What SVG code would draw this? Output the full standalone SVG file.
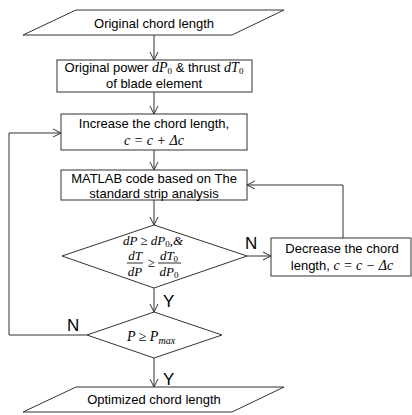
<svg xmlns="http://www.w3.org/2000/svg" width="412" height="415" viewBox="0 0 412 415">
<style>
.s{fill:#fff;stroke:#333;stroke-width:1}
.c{fill:none;stroke:#333;stroke-width:1}
.t{font-family:"Liberation Sans",Arial,sans-serif;font-size:13px;fill:#000;text-anchor:middle}
.m{font-family:"Liberation Serif","Times New Roman",serif;font-style:italic;font-size:14px}
.f{font-size:13px}
.u{font-family:"Liberation Serif","Times New Roman",serif;font-style:normal;font-size:9px}
.ui{font-family:"Liberation Serif","Times New Roman",serif;font-style:italic;font-size:10px}
.l{font-family:"Liberation Sans",Arial,sans-serif;font-size:17px;fill:#000}
</style>
<defs>
<marker id="a" viewBox="0 0 10 10" refX="10" refY="5" markerWidth="10" markerHeight="10" markerUnits="userSpaceOnUse" orient="auto">
<polyline points="2,1 10,5 2,9" fill="none" stroke="#333" stroke-width="1"/>
</marker>
</defs>
<rect width="412" height="415" fill="#fff"/>
<g id="connectors">
<line class="c" x1="154" y1="35" x2="154" y2="60" marker-end="url(#a)"/>
<line class="c" x1="154" y1="92" x2="154" y2="114" marker-end="url(#a)"/>
<line class="c" x1="154" y1="150" x2="154" y2="170" marker-end="url(#a)"/>
<line class="c" x1="154" y1="200" x2="154" y2="225" marker-end="url(#a)"/>
<line class="c" x1="247" y1="256" x2="271" y2="256" marker-end="url(#a)"/>
<path class="c" d="M343,238 V185 H247" marker-end="url(#a)"/>
<line class="c" x1="154" y1="288" x2="154" y2="312" marker-end="url(#a)"/>
<path class="c" d="M87,335 H9 V133 H61" marker-end="url(#a)"/>
<line class="c" x1="154" y1="358" x2="154" y2="387" marker-end="url(#a)"/>
<text class="l" x="245" y="249">N</text>
<text class="l" x="163" y="307">Y</text>
<text class="l" x="67" y="331">N</text>
<text class="l" x="163" y="385">Y</text>
</g>
<g id="start">
<polygon class="s" points="76,10 284,10 232,35 23,35"/>
<text class="t" x="154" y="28">Original chord length</text>
</g>
<g id="original">
<rect class="s" x="57" y="60" width="195" height="32"/>
<text class="t" x="154" y="72">Original power <tspan class="m">dP</tspan><tspan class="u" dy="2">0</tspan><tspan dy="-2"> &amp; thrust </tspan><tspan class="m">dT</tspan><tspan class="u" dy="2">0</tspan></text>
<text class="t" x="154" y="88">of blade element</text>
</g>
<g id="increase">
<rect class="s" x="61" y="114" width="186" height="36"/>
<text class="t" x="154" y="128">Increase the chord length,</text>
<text class="t m" x="154" y="145">c = c + Δc</text>
</g>
<g id="matlab">
<rect class="s" x="61" y="170" width="186" height="30"/>
<text class="t" x="154" y="183">MATLAB code based on The</text>
<text class="t" x="154" y="198">standard strip analysis</text>
</g>
<g id="check1">
<polygon class="s" points="154,225 247,256 154,288 62,256"/>
<text class="t m f" x="153" y="245">dP ≥ dP<tspan class="u" dy="2">0</tspan><tspan dy="-2">,&amp;</tspan></text>
<text class="t m f" x="135" y="260">dT</text>
<line class="c" x1="127" y1="263" x2="143" y2="263"/>
<text class="t m f" x="135" y="276">dP</text>
<text class="t m f" x="151" y="267">≥</text>
<text class="t m f" x="169" y="260">dT<tspan class="u" dy="2">0</tspan></text>
<line class="c" x1="158" y1="263" x2="181" y2="263"/>
<text class="t m f" x="169" y="276">dP<tspan class="u" dy="2">0</tspan></text>
</g>
<g id="decrease">
<rect class="s" x="271" y="238" width="140" height="38"/>
<text class="t" x="342" y="253">Decrease the chord</text>
<text class="t" x="342" y="270">length, <tspan class="m">c = c − Δc</tspan></text>
</g>
<g id="check2">
<polygon class="s" points="154,312 222,335 154,358 87,335"/>
<text class="t m" x="151" y="341">P ≥ P<tspan class="ui" dy="3">max</tspan></text>
</g>
<g id="end">
<polygon class="s" points="76,387 284,387 232,412 23,412"/>
<text class="t" x="154" y="404">Optimized chord length</text>
</g>
</svg>
